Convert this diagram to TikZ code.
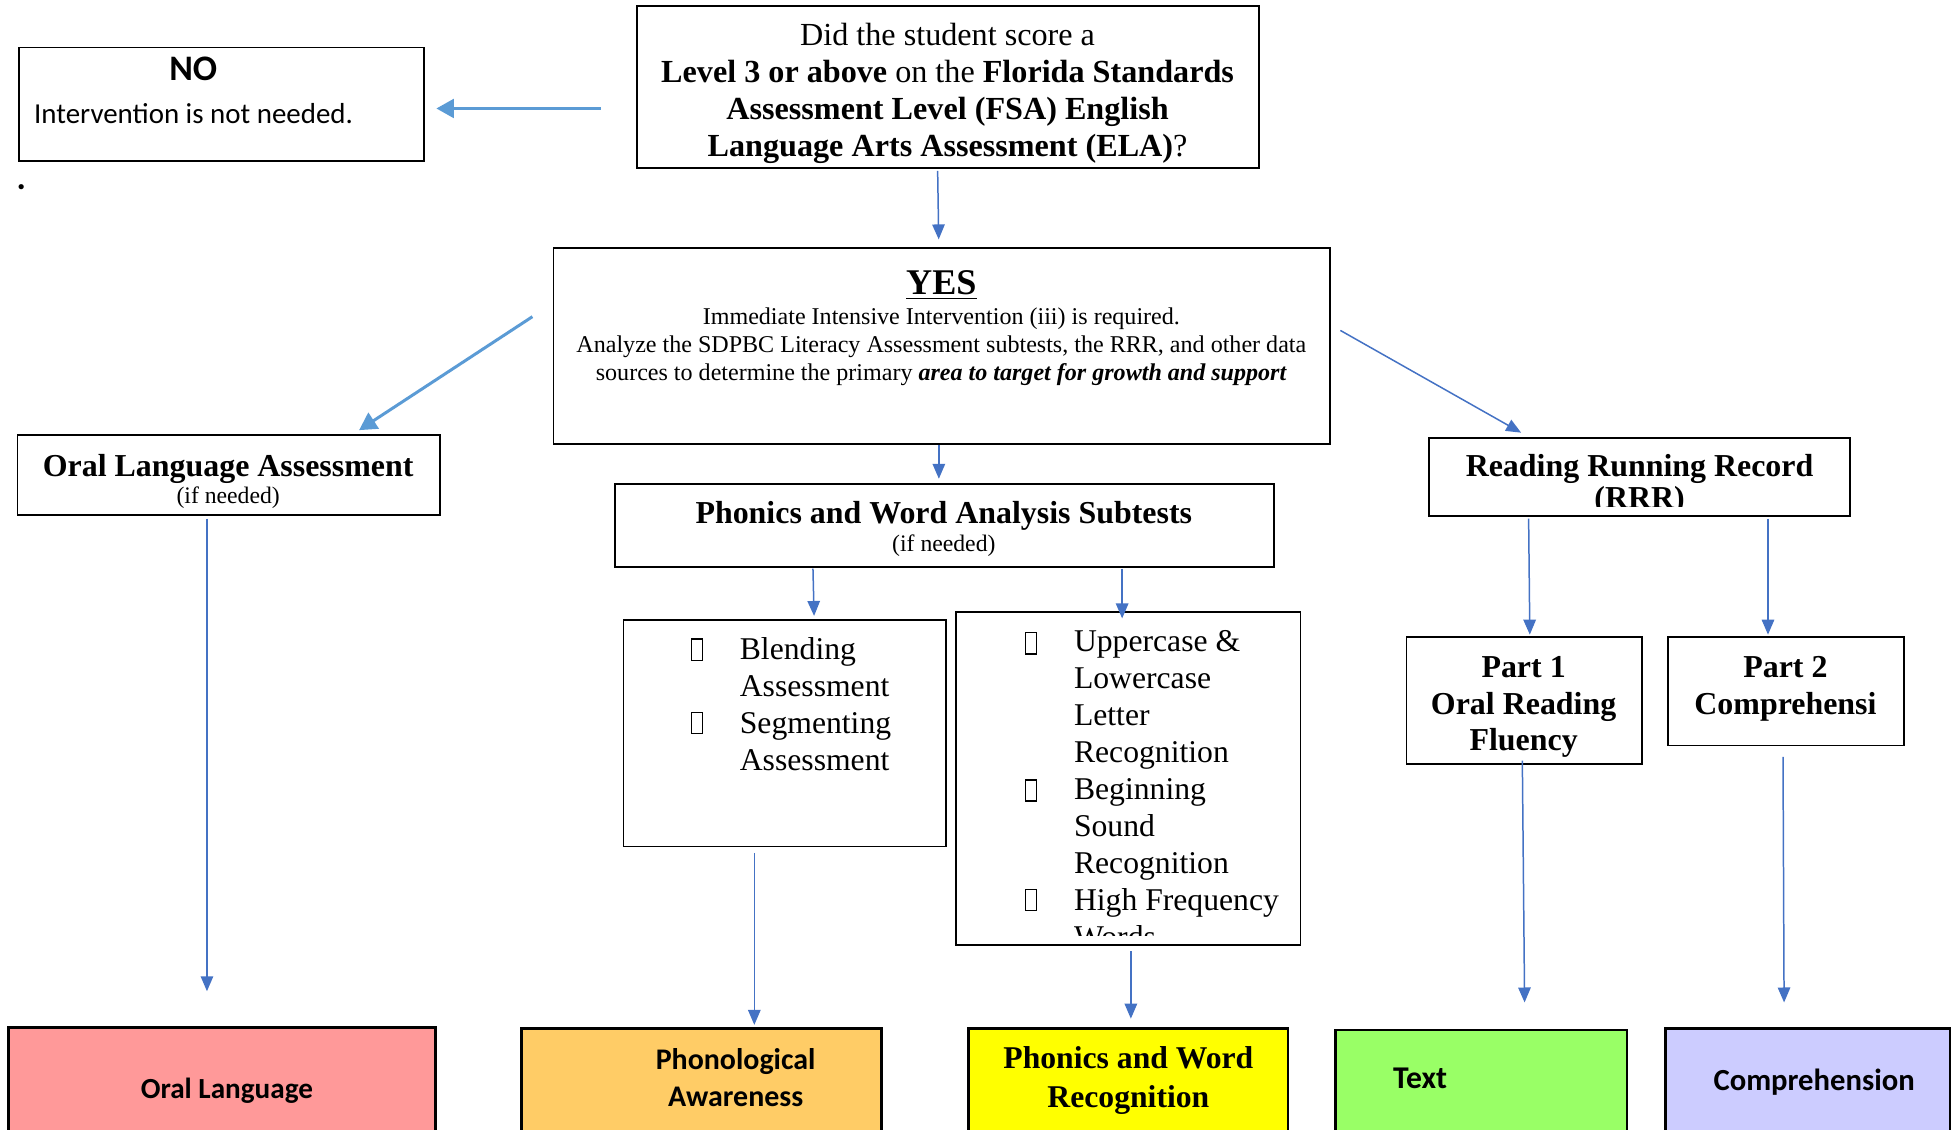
\documentclass[tikz,border=0pt]{standalone}
\usepackage{fontspec}
\setmainfont{Liberation Serif}
\newfontfamily\calfont{Carlito}
\usetikzlibrary{arrows.meta}
\definecolor{arrblue}{HTML}{4472C4}
\definecolor{arrlight}{HTML}{5B9BD5}
\definecolor{olfill}{HTML}{FF9999}
\definecolor{pafill}{HTML}{FFCC66}
\definecolor{pwrfill}{HTML}{FFFF00}
\definecolor{txfill}{HTML}{99FF66}
\definecolor{cofill}{HTML}{CCCCFF}
\begin{document}
\begin{tikzpicture}[x=0.5pt,y=-0.5pt,
 box/.style={draw=black, line width=0.7pt, inner sep=0pt, outer sep=0pt},
 cbox/.style={draw=black, line width=1.1pt, inner sep=0pt, outer sep=0pt},
 txt/.style={inner sep=0pt, align=center},
 arr/.style={draw=arrblue, line width=0.6pt, -{Triangle[length=6pt,width=5pt]}},
 arrthick/.style={draw=arrlight, line width=1.2pt, -{Triangle[length=7pt,width=7.5pt]}},
 bul/.style={draw=black, line width=0.55pt, minimum width=4.5pt, minimum height=8.5pt, inner sep=0pt},
 ttl/.style={font=\fontsize{12.8}{14.75}\selectfont\bfseries},
 sm/.style={font=\fontsize{9.5}{11}\selectfont},
 body/.style={font=\fontsize{12.7}{14.85}\selectfont, inner sep=0pt, align=left},
]
\useasboundingbox (0,0) rectangle (1568,906);
\clip (0,0) rectangle (1568,906);

% ---------- boxes ----------
\node[box, minimum width=162.5pt, minimum height=45.5pt] (no) at (177.5,83.5) {};
\node[box, minimum width=249.5pt, minimum height=65pt] (q) at (760.5,70) {};
\node[box, minimum width=311.5pt, minimum height=78.5pt] (yes) at (755.5,277.5) {};
\node[box, minimum width=169.5pt, minimum height=32pt] (ola) at (183.5,381) {};
\node[box, minimum width=264.5pt, minimum height=33.5pt] (pwa) at (757.5,421.5) {};
\node[box, minimum width=169pt, minimum height=31.5pt] (rrr) at (1315,382.5) {};
\node[box, minimum width=129.5pt, minimum height=91pt] (bl) at (629.5,588) {};
\node[box, minimum width=138pt, minimum height=133.5pt] (up) at (905,624.5) {};
\node[box, minimum width=94.5pt, minimum height=51pt] (p1) at (1222.5,562) {};
\node[box, minimum width=94.5pt, minimum height=43.5pt] (p2) at (1432.5,554.5) {};

\node[cbox, fill=olfill, minimum width=171pt, minimum height=53pt] (ol) at (178,877) {};
\node[cbox, fill=pafill, minimum width=144.5pt, minimum height=52.5pt] (pa) at (562.5,877.5) {};
\node[cbox, fill=pwrfill, minimum width=128pt, minimum height=52.5pt] (pwr) at (905,877.5) {};
\node[cbox, fill=txfill, minimum width=117pt, minimum height=52pt] (tx) at (1188,878) {};
\node[cbox, fill=cofill, minimum width=114pt, minimum height=52.5pt] (co) at (1450,877.5) {};

% ---------- texts ----------
\node[txt, font=\calfont\bfseries\fontsize{14.4}{16}\selectfont] (notitle) at (155,55) {NO};
\node[txt, anchor=west, font=\calfont\fontsize{11.6}{14}\selectfont] (nobody) at (27,91) {Intervention is not needed.};
\node[txt, font=\calfont\bfseries\fontsize{14}{16}\selectfont] (dot) at (17,150) {.};

\begin{scope}
\clip (511,5) rectangle (1010,133);
\node[txt, font=\fontsize{12.9}{14.75}\selectfont] (qtext) at (760,75) {Did the student score a\\
\textbf{Level 3 or above} on the \textbf{Florida Standards}\\
\textbf{Assessment Level (FSA) English}\\
\textbf{Language Arts Assessment (ELA)}?};
\end{scope}

\node[txt, font=\fontsize{14.5}{16}\selectfont\bfseries] (yestitle) at (755,229) {\underline{YES}};
\node[txt, font=\fontsize{9.65}{11.25}\selectfont] (yesbody) at (755,278) {Immediate Intensive Intervention (iii) is required.\\
Analyze the SDPBC Literacy Assessment subtests, the RRR, and other data\\
sources to determine the primary \textbf{\textit{area to target for growth and support}}};

\node[txt, ttl] (olatitle) at (183,376) {Oral Language Assessment};
\node[txt, sm] (olasub) at (183,399) {(if needed)};

\node[txt, ttl] (pwatitle) at (757,414) {Phonics and Word Analysis Subtests};
\node[txt, sm] (pwasub) at (757,438) {(if needed)};

\begin{scope}
\clip (1146,351) rectangle (1484,406);
\node[txt, ttl] (rrrtitle) at (1315,376) {Reading Running Record};
\node[txt, ttl] (rrrsub) at (1315,402) {(RRR)};
\end{scope}

\node[body, anchor=west] (bltext) at (593,564.5) {Blending\\Assessment\\Segmenting\\Assessment};
\node[bul] (blb1) at (559,521) {};
\node[bul] (blb2) at (559,580) {};

\begin{scope}
\clip (767,491) rectangle (1043,750);
\node[body, anchor=west] (uptext) at (861,633) {Uppercase \&\\Lowercase\\Letter\\Recognition\\Beginning\\Sound\\Recognition\\High Frequency\\Words};
\end{scope}
\node[bul] (upb1) at (827,516) {};
\node[bul] (upb2) at (827,634) {};
\node[bul] (upb3) at (827,722) {};

\node[txt, ttl] (p1text) at (1222,567) {Part 1\\Oral Reading\\Fluency};
\node[txt, ttl] (p2text) at (1432,552.5) {Part 2\\Comprehensi};

\node[txt, font=\calfont\bfseries\fontsize{11.7}{14}\selectfont] (oltext) at (182,875) {Oral Language};
\node[txt, font=\calfont\bfseries\fontsize{12}{15}\selectfont] (patext) at (590,864.5) {Phonological\\Awareness};
\node[txt, font=\fontsize{12.7}{15.5}\selectfont\bfseries] (pwrtext) at (905,866.5) {Phonics and Word\\Recognition};
\node[txt, font=\calfont\bfseries\fontsize{12.7}{15}\selectfont] (txtext) at (1139,865) {Text};
\node[txt, font=\calfont\bfseries\fontsize{12.3}{14}\selectfont] (cotext) at (1455,868) {Comprehension};

% ---------- connectors ----------
\draw[arrthick, shorten <=14.5pt, shorten >=5pt] (q.west |- 0,87) -- (no.east |- 0,87);
\draw[arr, shorten <=1pt, shorten >=3.5pt] ([xshift=-4.25pt]q.south) -- ([xshift=-1.25pt]yes.north);
\draw[arrthick] ([xshift=-8.5pt,yshift=11.75pt]yes.west) -- ([xshift=52.25pt,yshift=2pt]ola.north);
\draw[arr] ([xshift=4pt,yshift=6.25pt]yes.east) -- ([xshift=-47.5pt,yshift=2pt]rrr.north);
\draw[arr, shorten <=0.5pt, shorten >=2pt] ([xshift=-1.25pt]yes.south) -- ([xshift=-2.25pt]pwa.north);
\draw[arr, shorten <=1.5pt, shorten >=14.5pt] ([xshift=-8.75pt]ola.south) -- ([xshift=-6pt]ol.north);
\draw[arr, shorten <=0.5pt, shorten >=1.5pt] ([xshift=-52.75pt]pwa.south) -- ([xshift=11.75pt]bl.north);
\draw[arr, shorten <=0.5pt, shorten >=-2.5pt] ([xshift=71.25pt]pwa.south) -- ([xshift=-2.5pt]up.north);
\draw[arr, shorten <=2.5pt, shorten >=1.5pt] ([xshift=-12.25pt]bl.south) -- ([xshift=21.25pt]pa.north);
\draw[arr, shorten <=2.5pt, shorten >=4pt] ([xshift=1pt]up.south) -- ([xshift=1pt]pwr.north);
\draw[arr, shorten <=1pt, shorten >=1pt] ([xshift=-44.5pt]rrr.south) -- ([xshift=2.25pt]p1.north);
\draw[arr, shorten <=1pt, shorten >=1pt] ([xshift=51.5pt]rrr.south) -- ([xshift=-7.25pt]p2.north);
\draw[arr, shorten <=-1.5pt, shorten >=11pt] ([xshift=-0.75pt]p1.south) -- ([xshift=17.5pt]tx.north);
\draw[arr, shorten <=4.5pt, shorten >=10.5pt] ([xshift=-1.25pt]p2.south) -- ([xshift=-9.5pt]co.north);
\end{tikzpicture}
\end{document}
